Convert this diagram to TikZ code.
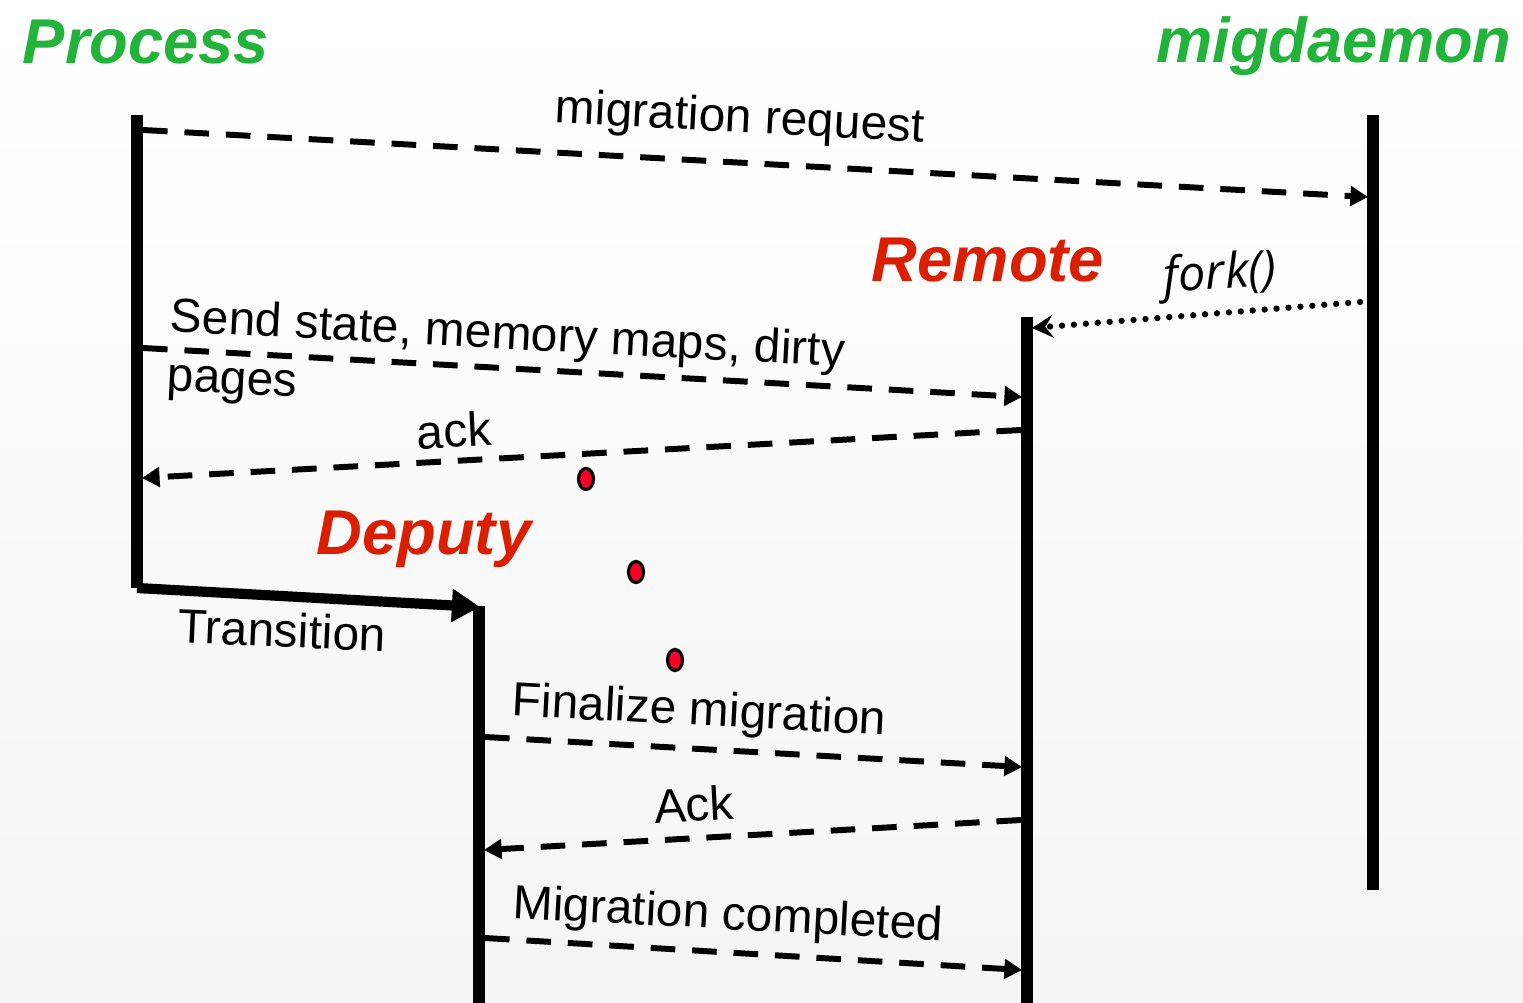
\documentclass[tikz,border=0pt]{standalone}
\usepackage{fontspec}
\setmainfont{Liberation Sans}
\newfontfamily\forkfont{Open Sans}
\usetikzlibrary{arrows.meta,shapes.geometric}

\definecolor{procgreen}{RGB}{34,179,58}
\definecolor{remred}{RGB}{217,31,0}
\definecolor{dotred}{RGB}{250,0,40}

\tikzset{
  lifeline/.style={line width=3.3pt},
  msgline/.style={line width=1.7pt, dash pattern=on 7pt off 4.8pt,
    -{Triangle[length=5pt,width=5.5pt]}},
  forkline/.style={line width=1.8pt, line cap=round, dash pattern=on 0pt off 3.4pt,
    -{Stealth[length=6pt,width=6.5pt,inset=2.2pt]}},
  msg/.style={inner sep=0pt, font=\fontsize{13.6}{16.8}\selectfont},
  title/.style={inner sep=0pt, font=\fontsize{18}{20}\selectfont\bfseries\itshape},
  reddot/.style={ellipse, draw=black, line width=0.9pt, fill=dotred,
    minimum width=0.15cm, minimum height=0.21cm, inner sep=0pt}
}

\begin{document}
\begin{tikzpicture}[x=0.01cm,y=-0.01cm]
\useasboundingbox (0,0) rectangle (1523,1003);
\shade[top color=white, middle color=white, bottom color=black!4] (0,0) rectangle (1523,1003);

% lifelines
\coordinate (proTop) at (137,115);
\coordinate (proBot) at (137,588);
\coordinate (mdTop) at (1373,115);
\coordinate (mdBot) at (1373,890);
\coordinate (remTop) at (1027,317);
\coordinate (remBot) at (1027,1003);
\coordinate (depTop) at (479,606);
\coordinate (depBot) at (479,1003);

\draw[lifeline] (proTop) -- (proBot);
\draw[lifeline] (mdTop) -- (mdBot);
\draw[lifeline] (remTop) -- (remBot);
\draw[lifeline] (depTop) -- (depBot);

% transition
\coordinate (trS) at (137,588);
\coordinate (trE) at (480,607);
\draw[line width=2.9pt, -{Triangle[length=8pt,width=9pt]}] (trS) -- (trE);

% titles
\node[title, text=procgreen] (process) at (146,42) {Process};
\node[title, text=procgreen] (migd) at (1334,46) {migdaemon};
\node[title, text=remred] (remote) at (988,260) {Remote};
\node[title, text=remred] (deputy) at (424,539) {Deputy};

% message end points
\coordinate (reqS) at (143,130);
\coordinate (reqE) at (1368,197);
\coordinate (forkS) at (1360,302);
\coordinate (forkE) at (1032,328);
\coordinate (sendS) at (143,348);
\coordinate (sendE) at (1022,397);
\coordinate (ackS) at (1021,430);
\coordinate (ackE) at (142,478);
\coordinate (finS) at (485,737);
\coordinate (finE) at (1022,767);
\coordinate (AckS) at (1021,820);
\coordinate (AckE) at (484,850);
\coordinate (compS) at (485,938);
\coordinate (compE) at (1022,970);

\draw[msgline] (reqS) -- (reqE);
\draw[forkline] (forkS) -- (forkE);
\draw[msgline] (sendS) -- (sendE);
\draw[msgline] (ackS) -- (ackE);
\draw[msgline] (finS) -- (finE);
\draw[msgline] (AckS) -- (AckE);
\draw[msgline] (compS) -- (compE);

% labels
\node[msg, rotate=-3] (reqlbl) at (740,120) {migration request};
\node[msg, rotate=4, font=\fontsize{13.8}{15}\selectfont\forkfont\itshape] (forklbl) at (1220,276) {fork()};
\node[msg, rotate=-3, align=left, anchor=north west] (sendlbl) at (171,296) {Send state, memory maps, dirty\\pages};
\node[msg, rotate=3] (acklbl) at (454,430) {ack};
\node[msg, rotate=-2.5] (trlbl) at (282,630) {Transition};
\node[msg, rotate=-3] (finlbl) at (699,713) {Finalize migration};
\node[msg, rotate=3] (Acklbl) at (694,804) {Ack};
\node[msg, rotate=-3] (complbl) at (728,917) {Migration completed};

% dots
\node[reddot] (dotA) at (586,479) {};
\node[reddot] (dotB) at (636,572) {};
\node[reddot] (dotC) at (675,660) {};
\end{tikzpicture}
\end{document}
